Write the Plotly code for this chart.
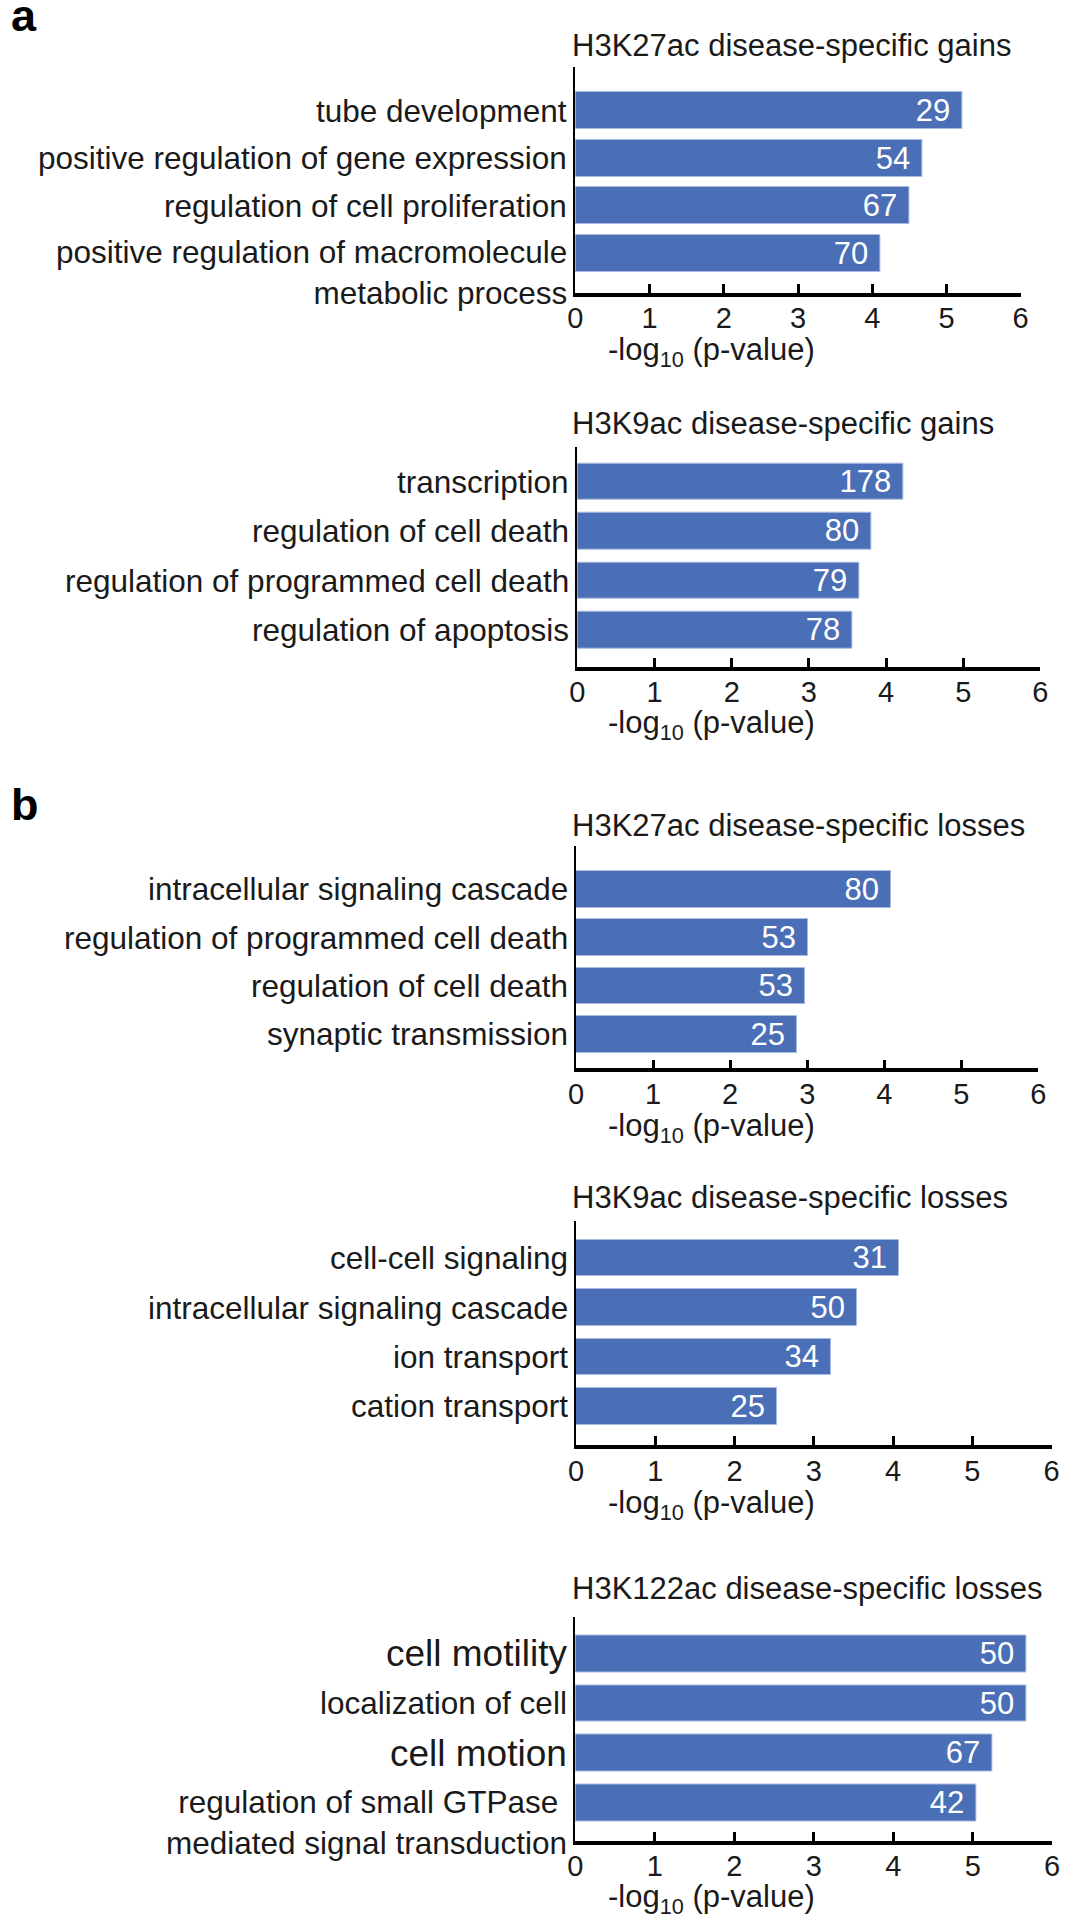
import plotly.graph_objects as go

# ---------------- data ----------------
p1_terms = ["tube development", "positive regulation of gene expression",
            "regulation of cell proliferation",
            "positive regulation of macromolecule<br>metabolic process"]
p1_vals = [5.21, 4.68, 4.50, 4.11]
p1_counts = [29, 54, 67, 70]

p2_terms = ["transcription", "regulation of cell death",
            "regulation of programmed cell death", "regulation of apoptosis"]
p2_vals = [4.23, 3.81, 3.65, 3.56]
p2_counts = [178, 80, 79, 78]

p3_terms = ["intracellular signaling cascade", "regulation of programmed cell death",
            "regulation of cell death", "synaptic transmission"]
p3_vals = [4.09, 3.01, 2.97, 2.87]
p3_counts = [80, 53, 53, 25]

p4_terms = ["cell-cell signaling", "intracellular signaling cascade",
            "ion transport", "cation transport"]
p4_vals = [4.07, 3.54, 3.21, 2.53]
p4_counts = [31, 50, 34, 25]

p5_terms = ["cell motility", "localization of cell", "cell motion",
            "regulation of small GTPase\u00a0<br>mediated signal transduction"]
p5_vals = [5.68, 5.68, 5.25, 5.05]
p5_counts = [50, 50, 67, 42]

titles = ["H3K27ac disease-specific gains", "H3K9ac disease-specific gains",
          "H3K27ac disease-specific losses", "H3K9ac disease-specific losses",
          "H3K122ac disease-specific losses"]
x_ticks = [0, 1, 2, 3, 4, 5, 6]
x_title = "-log<sub>10</sub> (p-value)"
panel_letters = ["a", "b"]

# ---------------- layout / style ----------------
W, H = 1072, 1920
FONT = "Liberation Sans, Arial, Helvetica, sans-serif"
TXT = "#1a1a1a"
BAR = "#4a6fb6"
BIG_LABELS = {"cell motility": 37, "cell motion": 37}

# pixel geometry of each panel
geom = [
    dict(x0=576, x6=1028, top=67, bot=292.7, rng=[3.83, -0.92], bw=0.78, title_y=45, xt_y=352),
    dict(x0=578, x6=1048, top=446.7, bot=666.7, rng=[3.74, -0.71], bw=0.74, title_y=423, xt_y=725),
    dict(x0=576.6, x6=1046, top=846, bot=1068.3, rng=[3.70, -0.89], bw=0.76, title_y=825, xt_y=1128),
    dict(x0=576.6, x6=1059.5, top=1221, bot=1445, rng=[3.78, -0.75], bw=0.74, title_y=1197, xt_y=1505),
    dict(x0=576, x6=1060, top=1616.5, bot=1840.5, rng=[3.75, -0.745], bw=0.74, title_y=1588, xt_y=1899),
]

panels = [(p1_terms, p1_vals, p1_counts), (p2_terms, p2_vals, p2_counts),
          (p3_terms, p3_vals, p3_counts), (p4_terms, p4_vals, p4_counts),
          (p5_terms, p5_vals, p5_counts)]

def px_x(v):
    return v / W

def px_y(v):
    return 1 - v / H

fig = go.Figure()
annotations = []
layout_axes = {}

for i, ((terms, vals, counts), g, title) in enumerate(zip(panels, geom, titles)):
    n = "" if i == 0 else str(i + 1)
    xa, ya = "x" + n, "y" + n
    fig.add_trace(go.Bar(
        x=vals, y=terms, orientation="h", xaxis=xa, yaxis=ya,
        width=g["bw"],
        marker=dict(color=BAR, line=dict(color="#a9bbe0", width=1)),
        text=[f"{c}\u00a0" for c in counts],
        textposition="inside", insidetextanchor="end", textangle=0,
        textfont=dict(color="white", size=31, family=FONT),
        showlegend=False, hoverinfo="x+y",
    ))
    layout_axes["xaxis" + n] = dict(
        domain=[px_x(g["x0"]), px_x(g["x6"])], anchor=ya, range=[0, 6],
        tickvals=x_ticks, ticktext=[str(t) for t in x_ticks],
        showline=True, linecolor="black", linewidth=3.5,
        ticks="inside", ticklen=9, tickwidth=2.5, tickcolor="black",
        ticklabelstandoff=-3,
        tickfont=dict(size=29, family=FONT, color=TXT),
        showgrid=False, zeroline=False, fixedrange=True,
    )
    layout_axes["yaxis" + n] = dict(
        domain=[px_y(g["bot"]), px_y(g["top"])], anchor=xa,
        type="category", categoryorder="array", categoryarray=terms,
        range=g["rng"], showticklabels=False, ticks="",
        showline=True, linecolor="black", linewidth=2,
        showgrid=False, zeroline=False, fixedrange=True,
    )
    # category labels
    for t in terms:
        plain = t.replace("\u00a0", "")
        size = BIG_LABELS.get(plain, 31.5)
        two = "<br>" in t
        annotations.append(dict(
            x=0, y=t, xref=xa, yref=ya, text=t, showarrow=False,
            xanchor="right", yanchor="middle", align="right",
            xshift=-6, yshift=-19 if two else 0,
            font=dict(size=size, family=FONT, color=TXT),
        ))
    # panel title
    annotations.append(dict(
        x=px_x(571), y=px_y(g["title_y"]), xref="paper", yref="paper",
        text=title, showarrow=False, xanchor="left", yanchor="middle",
        font=dict(size=31, family=FONT, color=TXT),
    ))
    # x-axis title
    annotations.append(dict(
        x=px_x(607), y=px_y(g["xt_y"]), xref="paper", yref="paper",
        text=x_title, showarrow=False, xanchor="left", yanchor="middle",
        font=dict(size=31, family=FONT, color=TXT),
    ))

# panel letters
for letter, ypix in zip(panel_letters, [15, 805]):
    annotations.append(dict(
        x=px_x(1), y=px_y(ypix), xref="paper", yref="paper",
        text=f"<b>{letter}</b>", showarrow=False, xanchor="left", yanchor="middle",
        font=dict(size=45, family=FONT, color="black"),
    ))

fig.update_layout(
    width=W, height=H, margin=dict(l=0, r=0, t=0, b=0),
    paper_bgcolor="white", plot_bgcolor="white",
    bargap=0, uniformtext=dict(minsize=31, mode="show"),
    annotations=annotations, font=dict(family=FONT, color=TXT),
    **layout_axes,
)

fig.write_html(
    "out.html",
    config={"displayModeBar": False},
    post_script="document.body.style.margin='0';document.body.style.padding='0';",
)
